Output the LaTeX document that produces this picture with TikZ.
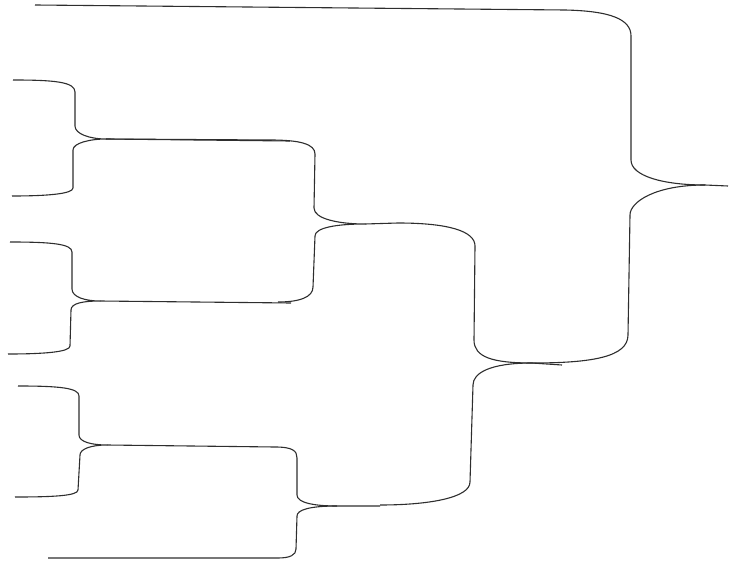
\documentclass[tikz,border=0pt]{standalone}
\begin{document}
\begin{tikzpicture}[x=1pt,y=-1pt,bracket/.style={draw=black!82,line width=1.1pt,line join=round}]
\useasboundingbox (0,0) rectangle (736,564);
% arm ends and tips
\coordinate (a1) at (13,80);   \coordinate (a2) at (12,196);  \coordinate (tA) at (106,139);
\coordinate (c1) at (10,242);  \coordinate (c2) at (8,354);   \coordinate (tC) at (100,301);
\coordinate (g1) at (18,386);  \coordinate (g2) at (15,497);  \coordinate (tG) at (107,445);
\coordinate (f2) at (48,558);  \coordinate (tF) at (337,506);
\coordinate (tB) at (365,224);
\coordinate (tD) at (532,363);
\coordinate (e1) at (35,5);    \coordinate (tE) at (705,185);
\coordinate (sE) at (728,186); \coordinate (sD) at (562,365);
\coordinate (sA) at (290,141); \coordinate (sC) at (291,303);
% brace A
\path[bracket] (a1) .. controls +(42,0) and +(0,-10) .. (75,92) -- (75,126)
  .. controls +(0,8) and +(-16,0) .. (tA)
  .. controls +(-16,0) and +(0,-7) .. (73,150) -- (73,188)
  .. controls +(0,6) and +(34,0) .. (a2);
% brace C
\path[bracket] (c1) .. controls +(42,0) and +(0,-8) .. (72,252) -- (72,289)
  .. controls +(0,8) and +(-15,0) .. (tC)
  .. controls +(-16,0) and +(0,-7) .. (71,310) -- (70,346)
  .. controls +(0,6) and +(36,0) .. (c2);
% brace G
\path[bracket] (g1) .. controls +(42,0) and +(0,-8) .. (79,396) -- (79,435)
  .. controls +(0,7) and +(-15,0) .. (tG)
  .. controls +(-16,0) and +(0,-6) .. (80,455) -- (78,490)
  .. controls +(0,6) and +(36,0) .. (g2);
% brace B
\path[bracket] (tA) -- (sA);
\path[bracket] (tC) -- (sC);
\path[bracket] (tA) -- (270,140) .. controls +(30,0) and +(0,-10) .. (315,154) -- (314,208)
  .. controls +(0,11) and +(-26,0) .. (tB)
  .. controls +(-30,0) and +(0,-8) .. (315,236) -- (313,287)
  .. controls +(0,10) and +(22,0) .. (278,302);
% brace F
\path[bracket] (tG) -- (275,447) .. controls +(18,0) and +(0,-7) .. (297,458) -- (297,495)
  .. controls +(0,8) and +(-22,0) .. (tF) -- (380,506);
\path[bracket] (tF) .. controls +(-28,0) and +(0,-6) .. (297,516) -- (296,549)
  .. controls +(0,6) and +(12,0) .. (278,558) -- (f2);
% brace D
\path[bracket] (tB) -- (398,223) .. controls +(50,0) and +(0,-15) .. (475,246) -- (474,340)
  .. controls +(0,17) and +(-40,0) .. (tD) -- (sD);
\path[bracket] (tD) .. controls +(-42,0) and +(0,-12) .. (473,385) -- (470,482)
  .. controls +(0,16) and +(48,0) .. (380,505);
% brace E
\path[bracket] (e1) -- (565,10) .. controls +(45,1) and +(0,-17) .. (631,36) -- (631,160)
  .. controls +(0,16) and +(-42,0) .. (tE) -- (sE);
\path[bracket] (tE) .. controls +(-50,0) and +(0,-13) .. (630,215) -- (628,335)
  .. controls +(0,22) and +(60,0) .. (tD);
\end{tikzpicture}
\end{document}
